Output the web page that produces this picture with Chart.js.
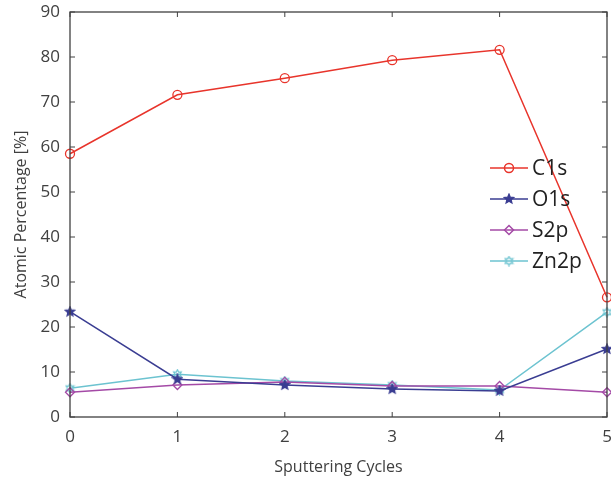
<!DOCTYPE html>
<html>
<head>
<meta charset="utf-8">
<script src="https://cdn.jsdelivr.net/npm/chart.js@4/dist/chart.umd.min.js"></script>
<style>
  html, body { margin: 0; padding: 0; background: #fff; }
  #wrap { width: 611px; height: 487px; }
</style>
</head>
<body>
<div id="wrap"><canvas id="chart" width="611" height="487"></canvas></div>
<script>
// Datos
const cycles = [0, 1, 2, 3, 4, 5];
const c1s  = [58.5, 71.6, 75.3, 79.3, 81.6, 26.6];
const o1s  = [23.4, 8.4, 7.1, 6.2, 5.8, 15.1];
const s2p  = [5.5, 7.1, 7.8, 6.9, 6.9, 5.5];
const zn2p = [6.4, 9.5, 8.0, 7.1, 6.0, 23.3];
const yTicks = [0, 10, 20, 30, 40, 50, 60, 70, 80, 90];

const axisColor = '#404040';
const fontFamily = '"Open Sans", "Liberation Sans", sans-serif';

// Marcadores personalizados
function starMarker(color, points, filled, size) {
    const c = document.createElement('canvas');
    c.width = size; c.height = size;
    const g = c.getContext('2d');
    const cx = size / 2, cy = size / 2, ro = size / 2 - 1, ri = ro * (points === 5 ? 0.45 : 0.55);
    g.beginPath();
    for (let i = 0; i < points * 2; i++) {
        const r = i % 2 === 0 ? ro : ri;
        const a = -Math.PI / 2 + i * Math.PI / points;
        const px = cx + r * Math.cos(a), py = cy + r * Math.sin(a);
        if (i === 0) g.moveTo(px, py); else g.lineTo(px, py);
    }
    g.closePath();
    if (filled) { g.fillStyle = color; g.fill(); }
    g.strokeStyle = color; g.lineWidth = 1.2; g.stroke();
    return c;
}

const colors = { c1s: '#e8342b', o1s: '#3a3d92', s2p: '#a44aa6', zn2p: '#6cc3d0' };
const o1sMarker = starMarker(colors.o1s, 5, true, 12);
const zn2pMarker = starMarker(colors.zn2p, 6, false, 11);

const datasets = [
    { label: 'C1s', data: c1s, borderColor: colors.c1s, pointStyle: 'circle', pointRadius: 4.5, pointBorderWidth: 1.3, pointBackgroundColor: 'rgba(0,0,0,0)' },
    { label: 'O1s', data: o1s, borderColor: colors.o1s, pointStyle: o1sMarker, pointRadius: 6 },
    { label: 'S2p', data: s2p, borderColor: colors.s2p, pointStyle: 'rectRot', pointRadius: 4.5, pointBorderWidth: 1.3, pointBackgroundColor: 'rgba(0,0,0,0)' },
    { label: 'Zn2p', data: zn2p, borderColor: colors.zn2p, pointStyle: zn2pMarker, pointRadius: 5.5 }
].map(d => Object.assign({ borderWidth: 1.5, tension: 0, fill: false, clip: false, pointBorderColor: d.borderColor }, d));

// Caja y marcas hacia adentro
const boxPlugin = {
    id: 'box',
    afterDraw(chart) {
        const { ctx, chartArea: a, scales } = chart;
        ctx.save();
        ctx.strokeStyle = axisColor;
        ctx.lineWidth = 1.3;
        ctx.strokeRect(a.left, a.top, a.right - a.left, a.bottom - a.top);
        ctx.lineWidth = 1;
        const t = 5;
        cycles.forEach(v => {
            const x = scales.x.getPixelForValue(v);
            ctx.beginPath();
            ctx.moveTo(x, a.bottom); ctx.lineTo(x, a.bottom - t);
            ctx.moveTo(x, a.top); ctx.lineTo(x, a.top + t);
            ctx.stroke();
        });
        yTicks.forEach(v => {
            const y = scales.y.getPixelForValue(v);
            ctx.beginPath();
            ctx.moveTo(a.left, y); ctx.lineTo(a.left + t, y);
            ctx.moveTo(a.right, y); ctx.lineTo(a.right - t, y);
            ctx.stroke();
        });
        ctx.restore();
    }
};

// Leyenda dentro del área
const legendPlugin = {
    id: 'innerLegend',
    afterDatasetsDraw(chart) {
        const { ctx } = chart;
        ctx.save();
        const x0 = 490, y0 = 168, step = 31, len = 38;
        chart.data.datasets.forEach((d, i) => {
            const y = y0 + i * step;
            ctx.strokeStyle = d.borderColor;
            ctx.lineWidth = 1.5;
            ctx.beginPath(); ctx.moveTo(x0, y); ctx.lineTo(x0 + len, y); ctx.stroke();
            ctx.fillStyle = d.pointBackgroundColor || d.borderColor;
            Chart.helpers.drawPoint(ctx, {
                pointStyle: d.pointStyle, radius: d.pointRadius, borderWidth: d.pointBorderWidth || 1, rotation: 0
            }, x0 + len / 2, y);
            ctx.fillStyle = '#222';
            ctx.font = '21px ' + fontFamily;
            ctx.textBaseline = 'middle';
            ctx.fillText(d.label, x0 + len + 4, y + 1);
        });
        ctx.restore();
    }
};

new Chart(document.getElementById('chart'), {
    type: 'line',
    data: { labels: cycles, datasets: datasets },
    options: {
        responsive: false,
        animation: false,
        layout: { autoPadding: false, padding: { top: 12, right: 4, left: 8, bottom: 6 } },
        plugins: { legend: { display: false }, tooltip: { enabled: false } },
        scales: {
            x: {
                type: 'linear', min: 0, max: 5,
                grid: { display: false, drawTicks: false },
                border: { display: false },
                ticks: { stepSize: 1, color: axisColor, font: { family: fontFamily, size: 17 }, padding: 10 },
                title: { display: true, text: 'Sputtering Cycles', color: axisColor, font: { family: fontFamily, size: 16 }, padding: { top: 0 } },
                afterFit(s) { s.height = 64; s.paddingLeft = 0; s.paddingRight = 0; }
            },
            y: {
                min: 0, max: 90,
                grid: { display: false, drawTicks: false },
                border: { display: false },
                ticks: { stepSize: 10, color: axisColor, font: { family: fontFamily, size: 17 }, padding: 10 },
                title: { display: true, text: 'Atomic Percentage [%]', color: axisColor, font: { family: fontFamily, size: 16 }, padding: { bottom: 2 } },
                afterFit(s) { s.width = 62; s.paddingTop = 0; s.paddingBottom = 0; }
            }
        }
    },
    plugins: [boxPlugin, legendPlugin]
});
</script>
</body>
</html>
